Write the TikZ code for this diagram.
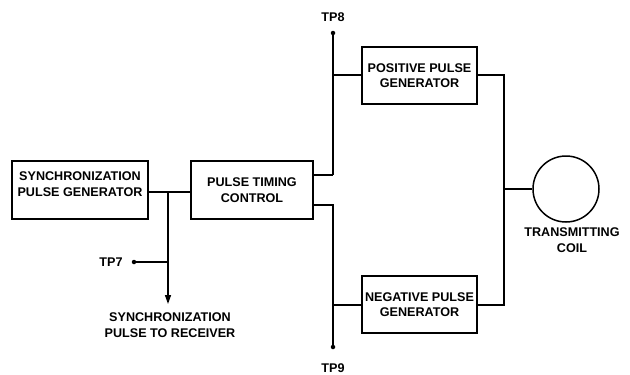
\documentclass[tikz,border=0pt]{standalone}
\usepackage{fontspec}
\setmainfont{Liberation Sans}
\usetikzlibrary{arrows.meta}
\begin{document}
\begin{tikzpicture}[x=1pt,y=-1pt,
  every node/.style={font=\bfseries\fontsize{12.6}{15.5}\selectfont},
  blk/.style={draw,line width=1.5pt,inner sep=0pt,align=center,minimum height=58pt},
  wire/.style={line width=1.5pt},
  tpdot/.style={circle,fill,inner sep=0pt,minimum size=4.5pt},
  lbl/.style={inner sep=0pt,align=center}]
\useasboundingbox (0,0) rectangle (630,375);
% blocks
\node[blk,minimum width=136pt] (sync) at (80,190) {SYNCHRONIZATION\\PULSE GENERATOR\\[-4pt]\mbox{}};
\node[blk,minimum width=122pt] (ptc) at (252,190) {PULSE TIMING\\CONTROL};
\node[blk,minimum width=115pt,minimum height=57pt] (pos) at (419.5,75.5) {POSITIVE PULSE\\GENERATOR};
\node[blk,minimum width=115pt,minimum height=57pt] (neg) at (419.5,304.5) {NEGATIVE PULSE\\GENERATOR};
\node[draw,circle,line width=1.5pt,minimum size=66pt,inner sep=0pt] (coil) at (566,189) {};
% labels
\node[lbl] (coillbl) at (572,240) {TRANSMITTING\\COIL};
\node[lbl] (rxlbl) at (170,325) {SYNCHRONIZATION\\PULSE TO RECEIVER};
% test points
\node[tpdot] (tp7) at (134,262) {};
\node[tpdot] (tp8) at (333,33) {};
\node[tpdot] (tp9) at (333,347) {};
\node[lbl] (tp7lbl) at (111,262) {TP7};
\node[lbl] (tp8lbl) at (333,17) {TP8};
\node[lbl] (tp9lbl) at (333,368) {TP9};
% junction coordinates
\coordinate (jb) at (168,192);
\coordinate (jt7) at (168,262);
\coordinate (arr) at (168,304);
\coordinate (u1) at (313,175);
\coordinate (u2) at (333,175);
\coordinate (l1) at (313,205);
\coordinate (l2) at (333,205);
\coordinate (p1) at (333,75);
\coordinate (n1) at (333,305);
\coordinate (r1) at (504,75);
\coordinate (r2) at (504,305);
\coordinate (rc) at (504,189);
% wires
\draw[wire] (sync.east |- jb) -- (ptc.west |- jb);
\draw[wire,-{Triangle[length=9pt,width=6pt]}] (jb) -- (arr);
\draw[wire] (tp7) -- (jt7);
\draw[wire] (u1) -- (u2);
\draw[wire] (tp8) -- (u2);
\draw[wire] (l1) -- (l2) -- (tp9);
\draw[wire] (p1) -- (pos.west |- p1);
\draw[wire] (n1) -- (neg.west |- n1);
\draw[wire] (pos.east |- r1) -- (r1) -- (r2) -- (neg.east |- r2);
\draw[wire] (rc) -- (coil.west);
\end{tikzpicture}
\end{document}
